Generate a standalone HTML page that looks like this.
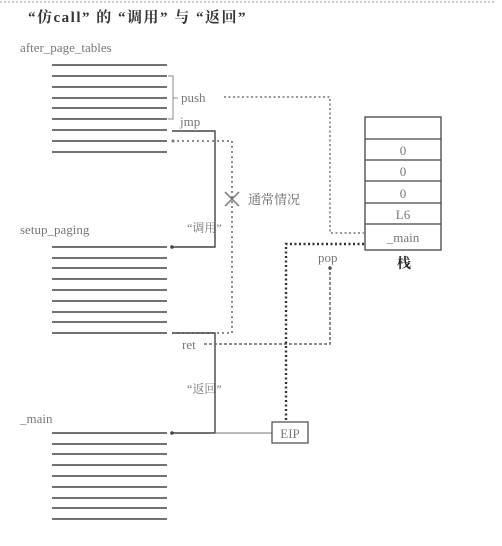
<!DOCTYPE html>
<html><head><meta charset="utf-8"><style>
html,body{margin:0;padding:0;background:#fff;width:502px;height:546px;overflow:hidden}
svg{display:block}
text{font-family:"Liberation Serif","Noto Serif CJK SC",serif;fill:#777}
</style></head><body>
<svg width="502" height="546" viewBox="0 0 502 546" xmlns="http://www.w3.org/2000/svg">
<line x1="0" y1="2" x2="495" y2="2" stroke="#999" stroke-width="1" stroke-dasharray="2,2"/>
<text x="28" y="22" font-size="15" font-weight="bold" letter-spacing="1.5" style="fill:#333">“仿call” 的 “调用” 与 “返回”</text>
<text x="20" y="52" font-size="13">after_page_tables</text>
<text x="20" y="234" font-size="13">setup_paging</text>
<text x="20" y="423" font-size="13">_main</text>
<g stroke="#444" stroke-width="1.5">
<line x1="52" x2="167" y1="65" y2="65"/><line x1="52" x2="167" y1="76" y2="76"/><line x1="52" x2="167" y1="87" y2="87"/><line x1="52" x2="167" y1="98" y2="98"/><line x1="52" x2="167" y1="108" y2="108"/><line x1="52" x2="167" y1="119" y2="119"/><line x1="52" x2="167" y1="130" y2="130"/><line x1="52" x2="167" y1="141" y2="141"/><line x1="52" x2="167" y1="152" y2="152"/>
<line x1="52" x2="167" y1="247" y2="247"/><line x1="52" x2="167" y1="258" y2="258"/><line x1="52" x2="167" y1="268" y2="268"/><line x1="52" x2="167" y1="279" y2="279"/><line x1="52" x2="167" y1="290" y2="290"/><line x1="52" x2="167" y1="301" y2="301"/><line x1="52" x2="167" y1="312" y2="312"/><line x1="52" x2="167" y1="322" y2="322"/><line x1="52" x2="167" y1="333" y2="333"/>
<line x1="52" x2="167" y1="433" y2="433"/><line x1="52" x2="167" y1="444" y2="444"/><line x1="52" x2="167" y1="454" y2="454"/><line x1="52" x2="167" y1="465" y2="465"/><line x1="52" x2="167" y1="476" y2="476"/><line x1="52" x2="167" y1="487" y2="487"/><line x1="52" x2="167" y1="498" y2="498"/><line x1="52" x2="167" y1="508" y2="508"/><line x1="52" x2="167" y1="519" y2="519"/>
</g>
<path d="M168 76 H173 V119 H168" fill="none" stroke="#888" stroke-width="1"/>
<line x1="173" y1="98" x2="178" y2="98" stroke="#888"/>
<text x="181" y="102" font-size="13">push</text>
<text x="180" y="126" font-size="13">jmp</text>
<text x="182" y="349" font-size="13">ret</text>
<text x="318" y="262" font-size="13">pop</text>
<path d="M224 97 H330 V233 H364" fill="none" stroke="#777" stroke-width="1.5" stroke-dasharray="2,2.5"/>
<path d="M172 131 H215 V247 H172" fill="none" stroke="#444" stroke-width="1.4"/>
<circle cx="172" cy="247" r="1.8" fill="#444"/>
<path d="M172 141 H232 V333 H172" fill="none" stroke="#666" stroke-width="1.5" stroke-dasharray="2,3"/>
<circle cx="173" cy="141" r="1.5" fill="#777"/>
<g stroke="#777" stroke-width="1.5"><line x1="225" y1="192" x2="239" y2="206"/><line x1="239" y1="192" x2="225" y2="206"/></g>
<text x="248" y="204" font-size="13" style="fill:#666">通常情况</text>
<text x="187" y="232" font-size="12" style="fill:#777">“调用”</text>
<text x="187" y="393" font-size="12" style="fill:#777">“返回”</text>
<path d="M172 333 H215 V433 H172" fill="none" stroke="#444" stroke-width="1.4"/>
<circle cx="172" cy="433" r="1.8" fill="#444"/>
<line x1="215" y1="433" x2="272" y2="433" stroke="#777" stroke-width="1"/>
<path d="M204 344 H330 V268" fill="none" stroke="#666" stroke-width="1.5" stroke-dasharray="3,2"/>
<circle cx="330" cy="268" r="1.8" fill="#555"/>
<path d="M364 244 H286 V421" fill="none" stroke="#333" stroke-width="2.4" stroke-dasharray="2,2.5"/>
<g fill="none" stroke="#444" stroke-width="1.3">
<rect x="365" y="117" width="76" height="133"/>
<line x1="365" x2="441" y1="139" y2="139"/><line x1="365" x2="441" y1="160" y2="160"/><line x1="365" x2="441" y1="181" y2="181"/><line x1="365" x2="441" y1="203" y2="203"/><line x1="365" x2="441" y1="224" y2="224"/>
</g>
<g font-size="13" text-anchor="middle">
<text x="403" y="155">0</text><text x="403" y="176">0</text><text x="403" y="198">0</text><text x="403" y="219">L6</text><text x="403" y="242">_main</text>
</g>
<text x="397" y="268" font-size="14" font-weight="bold" style="fill:#222">栈</text>
<rect x="272" y="422" width="36" height="21" fill="#fff" stroke="#555" stroke-width="1.3"/>
<text x="290" y="438" font-size="13" text-anchor="middle">EIP</text>
</svg>
</body></html>
